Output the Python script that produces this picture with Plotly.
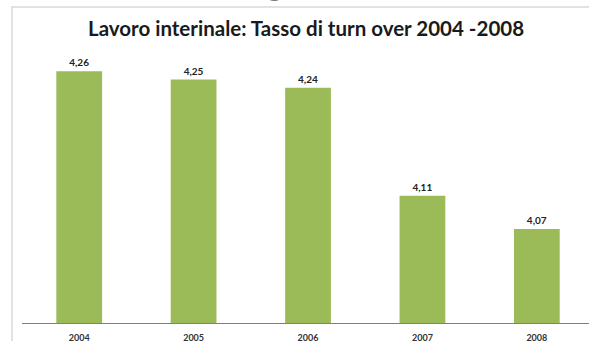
import plotly.graph_objects as go

# Turnover rate of temporary work, by year
years = ["2004", "2005", "2006", "2007", "2008"]
turnover = [4.26, 4.25, 4.24, 4.11, 4.07]

title_text = "Lavoro interinale: Tasso di turn over 2004 -2008"

W, H = 589, 341
L, R, T, B = 22, 0, 40, 18
plot_w = W - L - R
plot_h = H - T - B

def px_x(px):
    return (px - L) / plot_w

def px_y(py):
    return (H - B - py) / plot_h

fig = go.Figure(
    go.Bar(
        x=years,
        y=turnover,
        marker=dict(color="#9bbb59", line=dict(width=0)),
        texttemplate="%{y:.2f}",
        textposition="outside",
        textfont=dict(family="Lato", size=10, color="#222222", weight="bold"),
        cliponaxis=False,
        hoverinfo="skip",
    )
)

fig.update_layout(
    width=W,
    height=H,
    margin=dict(l=L, r=R, t=T, b=B, autoexpand=False),
    paper_bgcolor="white",
    plot_bgcolor="white",
    separators=",.",
    bargap=0.6,
    showlegend=False,
    xaxis=dict(
        type="category",
        range=[-0.5, 4.456],
        automargin=False,
        showline=True,
        linecolor="#7f7f7f",
        linewidth=1,
        ticks="",
        showgrid=False,
        tickfont=dict(family="Lato", size=9, color="#333333", weight="bold"),
        ticklabelstandoff=6,
        fixedrange=True,
    ),
    yaxis=dict(
        range=[3.957, 3.957 + plot_h / 831],
        visible=False,
        automargin=False,
        showgrid=False,
        fixedrange=True,
    ),
    shapes=[
        dict(
            type="rect",
            xref="paper",
            yref="paper",
            x0=px_x(12),
            x1=px_x(620),
            y0=px_y(380),
            y1=px_y(7),
            line=dict(color="#d9d9d9", width=1.5),
            fillcolor="rgba(0,0,0,0)",
            layer="below",
        )
    ],
    annotations=[
        dict(
            text=title_text,
            xref="paper",
            yref="paper",
            x=px_x(306),
            y=px_y(28),
            xanchor="center",
            yanchor="middle",
            showarrow=False,
            font=dict(family="Lato", size=20.5, color="#1a1a1a", weight="bold"),
        ),
        dict(
            text="g",
            xref="paper",
            yref="paper",
            x=px_x(276),
            y=px_y(3.5),
            xanchor="center",
            yanchor="bottom",
            showarrow=False,
            font=dict(family="DejaVu Serif", size=40, color="#111111"),
        ),
    ],
)

fig.write_html("out.html")
